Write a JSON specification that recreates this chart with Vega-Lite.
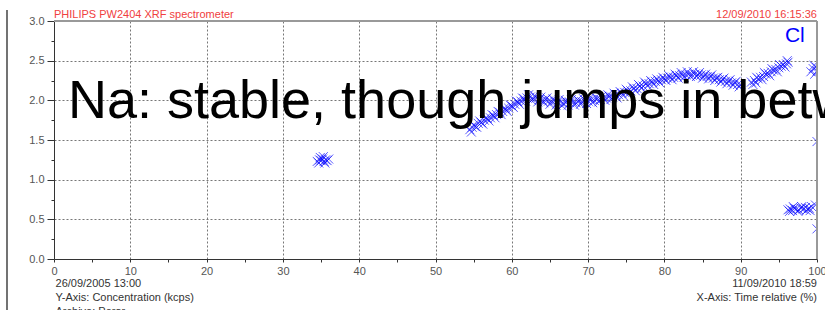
{
  "$schema": "https://vega.github.io/schema/vega-lite/v6.json",
  "width": 763,
  "height": 238,
  "autosize": {"type": "none"},
  "padding": {"left": 54, "top": 21, "right": 8, "bottom": 51},
  "background": "white",
  "config": {
    "view": {"stroke": null},
    "font": "Liberation Sans",
    "axis": {"labelFont": "Liberation Sans", "labelFontSize": 11, "labelColor": "#555555"}
  },
  "resolve": {"axis": {"x": "independent", "y": "independent"}},
  "datasets": {
    "one": [{}],
    "pts": [
      {"x": 34.5, "y": 1.23}, {"x": 34.8, "y": 1.25}, {"x": 35.0, "y": 1.24}, {"x": 35.2, "y": 1.26},
      {"x": 35.4, "y": 1.23}, {"x": 35.6, "y": 1.25}, {"x": 35.8, "y": 1.24}, {"x": 36.0, "y": 1.26},
      {"x": 34.9, "y": 1.28}, {"x": 35.5, "y": 1.21}, {"x": 35.3, "y": 1.29}, {"x": 34.7, "y": 1.21},
      {"x": 54.5, "y": 1.63}, {"x": 54.8, "y": 1.66}, {"x": 55.2, "y": 1.67}, {"x": 55.6, "y": 1.71},
      {"x": 56.0, "y": 1.72}, {"x": 56.4, "y": 1.75}, {"x": 56.8, "y": 1.77}, {"x": 57.2, "y": 1.78},
      {"x": 57.6, "y": 1.81}, {"x": 58.0, "y": 1.82}, {"x": 58.4, "y": 1.85}, {"x": 58.8, "y": 1.86},
      {"x": 59.2, "y": 1.89}, {"x": 59.6, "y": 1.90}, {"x": 60.0, "y": 1.93}, {"x": 60.4, "y": 1.95},
      {"x": 60.8, "y": 1.98}, {"x": 61.2, "y": 1.99}, {"x": 61.6, "y": 2.02}, {"x": 62.0, "y": 2.03},
      {"x": 62.4, "y": 2.04}, {"x": 62.8, "y": 2.02}, {"x": 63.2, "y": 2.03}, {"x": 63.6, "y": 2.01},
      {"x": 64.0, "y": 2.00}, {"x": 64.4, "y": 2.01}, {"x": 64.8, "y": 1.99}, {"x": 65.2, "y": 1.98},
      {"x": 65.6, "y": 1.99}, {"x": 66.0, "y": 1.97}, {"x": 66.4, "y": 1.98}, {"x": 66.8, "y": 1.96},
      {"x": 67.2, "y": 1.98}, {"x": 67.6, "y": 1.97}, {"x": 68.0, "y": 1.98}, {"x": 68.4, "y": 1.97},
      {"x": 68.8, "y": 1.99}, {"x": 69.2, "y": 1.98}, {"x": 69.6, "y": 2.00}, {"x": 70.0, "y": 1.99},
      {"x": 70.4, "y": 2.01}, {"x": 70.8, "y": 2.00}, {"x": 71.2, "y": 2.02}, {"x": 71.6, "y": 2.01},
      {"x": 72.0, "y": 2.03}, {"x": 72.4, "y": 2.03}, {"x": 72.8, "y": 2.05}, {"x": 73.2, "y": 2.04},
      {"x": 73.6, "y": 2.07}, {"x": 74.0, "y": 2.07}, {"x": 74.4, "y": 2.09}, {"x": 74.8, "y": 2.10},
      {"x": 75.2, "y": 2.12}, {"x": 75.6, "y": 2.12}, {"x": 76.0, "y": 2.15}, {"x": 76.4, "y": 2.15},
      {"x": 76.8, "y": 2.18}, {"x": 77.2, "y": 2.18}, {"x": 77.6, "y": 2.21}, {"x": 78.0, "y": 2.21},
      {"x": 78.4, "y": 2.23}, {"x": 78.8, "y": 2.24}, {"x": 79.2, "y": 2.25}, {"x": 79.6, "y": 2.26},
      {"x": 80.0, "y": 2.27}, {"x": 80.4, "y": 2.28}, {"x": 80.8, "y": 2.29}, {"x": 81.2, "y": 2.29},
      {"x": 81.6, "y": 2.31}, {"x": 82.0, "y": 2.31}, {"x": 82.4, "y": 2.32}, {"x": 82.8, "y": 2.32},
      {"x": 83.2, "y": 2.33}, {"x": 83.6, "y": 2.32}, {"x": 84.0, "y": 2.33}, {"x": 84.4, "y": 2.32},
      {"x": 84.8, "y": 2.32}, {"x": 85.2, "y": 2.31}, {"x": 85.6, "y": 2.30}, {"x": 86.0, "y": 2.30},
      {"x": 86.4, "y": 2.28}, {"x": 86.8, "y": 2.28}, {"x": 87.2, "y": 2.26}, {"x": 87.6, "y": 2.26},
      {"x": 88.0, "y": 2.24}, {"x": 88.4, "y": 2.24}, {"x": 88.8, "y": 2.22}, {"x": 89.2, "y": 2.22},
      {"x": 89.6, "y": 2.20}, {"x": 90.0, "y": 2.20},
      {"x": 54.7, "y": 1.60}, {"x": 55.0, "y": 1.69}, {"x": 55.4, "y": 1.66}, {"x": 55.8, "y": 1.74},
      {"x": 56.2, "y": 1.70}, {"x": 56.6, "y": 1.78}, {"x": 57.0, "y": 1.74}, {"x": 57.4, "y": 1.82},
      {"x": 57.8, "y": 1.78}, {"x": 58.2, "y": 1.86}, {"x": 58.6, "y": 1.82}, {"x": 59.0, "y": 1.90},
      {"x": 59.4, "y": 1.86}, {"x": 59.8, "y": 1.94}, {"x": 60.2, "y": 1.91}, {"x": 60.6, "y": 1.99},
      {"x": 61.0, "y": 1.95}, {"x": 61.4, "y": 2.03}, {"x": 61.8, "y": 1.99}, {"x": 62.2, "y": 2.07},
      {"x": 62.6, "y": 2.00}, {"x": 63.0, "y": 2.06}, {"x": 63.4, "y": 1.98}, {"x": 63.8, "y": 2.04},
      {"x": 64.2, "y": 1.97}, {"x": 64.6, "y": 2.03}, {"x": 65.0, "y": 1.95}, {"x": 65.4, "y": 2.02},
      {"x": 65.8, "y": 1.94}, {"x": 66.2, "y": 2.01}, {"x": 66.6, "y": 1.93}, {"x": 67.0, "y": 2.00},
      {"x": 67.4, "y": 1.94}, {"x": 67.8, "y": 2.01}, {"x": 68.2, "y": 1.94}, {"x": 68.6, "y": 2.01},
      {"x": 69.0, "y": 1.95}, {"x": 69.4, "y": 2.02}, {"x": 69.8, "y": 1.96}, {"x": 70.2, "y": 2.03},
      {"x": 70.6, "y": 1.97}, {"x": 71.0, "y": 2.04}, {"x": 71.4, "y": 1.98}, {"x": 71.8, "y": 2.05},
      {"x": 72.2, "y": 2.00}, {"x": 72.6, "y": 2.07}, {"x": 73.0, "y": 2.01}, {"x": 73.4, "y": 2.09},
      {"x": 73.8, "y": 2.03}, {"x": 74.2, "y": 2.11}, {"x": 74.6, "y": 2.06}, {"x": 75.0, "y": 2.14},
      {"x": 75.4, "y": 2.09}, {"x": 75.8, "y": 2.17}, {"x": 76.2, "y": 2.12}, {"x": 76.6, "y": 2.20},
      {"x": 77.0, "y": 2.15}, {"x": 77.4, "y": 2.23}, {"x": 77.8, "y": 2.18}, {"x": 78.2, "y": 2.25},
      {"x": 78.6, "y": 2.20}, {"x": 79.0, "y": 2.27}, {"x": 79.4, "y": 2.22}, {"x": 79.8, "y": 2.29},
      {"x": 80.2, "y": 2.25}, {"x": 80.6, "y": 2.31}, {"x": 81.0, "y": 2.26}, {"x": 81.4, "y": 2.33},
      {"x": 81.8, "y": 2.28}, {"x": 82.2, "y": 2.35}, {"x": 82.6, "y": 2.29}, {"x": 83.0, "y": 2.36},
      {"x": 83.4, "y": 2.30}, {"x": 83.8, "y": 2.36}, {"x": 84.2, "y": 2.30}, {"x": 84.6, "y": 2.35},
      {"x": 85.0, "y": 2.28}, {"x": 85.4, "y": 2.33}, {"x": 85.8, "y": 2.27}, {"x": 86.2, "y": 2.32},
      {"x": 86.6, "y": 2.25}, {"x": 87.0, "y": 2.29}, {"x": 87.4, "y": 2.23}, {"x": 87.8, "y": 2.28},
      {"x": 88.2, "y": 2.21}, {"x": 88.6, "y": 2.26}, {"x": 89.0, "y": 2.19}, {"x": 89.4, "y": 2.24},
      {"x": 89.8, "y": 2.17},
      {"x": 91.4, "y": 2.23}, {"x": 91.8, "y": 2.25}, {"x": 92.0, "y": 2.22}, {"x": 92.3, "y": 2.27},
      {"x": 92.6, "y": 2.29}, {"x": 93.0, "y": 2.30}, {"x": 93.3, "y": 2.33}, {"x": 93.6, "y": 2.34},
      {"x": 94.0, "y": 2.36}, {"x": 94.3, "y": 2.38}, {"x": 94.6, "y": 2.39}, {"x": 95.0, "y": 2.41},
      {"x": 95.3, "y": 2.43}, {"x": 95.6, "y": 2.45}, {"x": 96.0, "y": 2.46}, {"x": 96.2, "y": 2.48},
      {"x": 91.6, "y": 2.20}, {"x": 92.1, "y": 2.29}, {"x": 92.8, "y": 2.26}, {"x": 93.1, "y": 2.35},
      {"x": 93.8, "y": 2.31}, {"x": 94.1, "y": 2.40}, {"x": 94.8, "y": 2.36}, {"x": 95.1, "y": 2.45},
      {"x": 95.8, "y": 2.42}, {"x": 96.1, "y": 2.50},
      {"x": 99.2, "y": 2.36}, {"x": 99.5, "y": 2.40}, {"x": 99.7, "y": 2.33}, {"x": 99.9, "y": 2.42},
      {"x": 100.0, "y": 2.37}, {"x": 99.6, "y": 2.44},
      {"x": 100.0, "y": 1.48}, {"x": 100.0, "y": 0.38},
      {"x": 96.2, "y": 0.62}, {"x": 96.5, "y": 0.63}, {"x": 96.8, "y": 0.61}, {"x": 97.0, "y": 0.64},
      {"x": 97.3, "y": 0.63}, {"x": 97.6, "y": 0.62}, {"x": 97.9, "y": 0.64}, {"x": 98.2, "y": 0.63},
      {"x": 98.5, "y": 0.65}, {"x": 98.8, "y": 0.63}, {"x": 99.0, "y": 0.64}, {"x": 99.3, "y": 0.66},
      {"x": 99.8, "y": 0.68},
      {"x": 96.4, "y": 0.60}, {"x": 96.9, "y": 0.66}, {"x": 97.5, "y": 0.60}, {"x": 98.0, "y": 0.66},
      {"x": 98.6, "y": 0.61}, {"x": 99.1, "y": 0.61}
    ]
  },
  "layer": [
    {
      "data": {"name": "pts"},
      "mark": {"type": "point", "shape": "M-1,-1L1,1M-1,1L1,-1", "filled": false, "size": 81, "stroke": "#0000ff", "strokeWidth": 1, "opacity": 0.65, "clip": true},
      "encoding": {
        "x": {
          "field": "x", "type": "quantitative",
          "scale": {"domain": [0, 100], "nice": false, "zero": false},
          "axis": {
            "title": null,
            "values": [0, 5, 10, 15, 20, 25, 30, 35, 40, 45, 50, 55, 60, 65, 70, 75, 80, 85, 90, 95, 100],
            "labelExpr": "datum.value % 10 === 0 ? datum.label : ''",
            "labelFlush": false, "labelOverlap": false, "labelPadding": 3,
            "tickSize": 3, "tickColor": "#333333",
            "domainColor": "#333333",
            "grid": true, "gridDash": [2, 2], "gridColor": "#777777",
            "gridOpacity": {"condition": {"test": "datum.value % 10 !== 0 || datum.value === 0 || datum.value === 100", "value": 0}, "value": 1}
          }
        },
        "y": {
          "field": "y", "type": "quantitative",
          "scale": {"domain": [0, 3], "nice": false, "zero": false},
          "axis": {
            "title": null,
            "values": [0, 0.25, 0.5, 0.75, 1, 1.25, 1.5, 1.75, 2, 2.25, 2.5, 2.75, 3],
            "format": ".1f",
            "labelExpr": "abs(datum.value * 2 - round(datum.value * 2)) < 0.001 ? datum.label : ''",
            "labelOverlap": false, "labelFlush": false, "labelPadding": 3,
            "tickSize": {"condition": {"test": "abs(datum.value * 2 - round(datum.value * 2)) > 0.001", "value": 3}, "value": 7},
            "tickColor": "#333333",
            "domainColor": "#333333",
            "grid": true, "gridDash": [2, 2], "gridColor": "#777777",
            "gridOpacity": {"condition": {"test": "abs(datum.value * 2 - round(datum.value * 2)) > 0.001 || datum.value === 0 || datum.value === 3", "value": 0}, "value": 1}
          }
        }
      }
    },
    {
      "data": {"name": "one"},
      "mark": {"type": "rule", "stroke": "#999999", "strokeWidth": 2, "clip": false},
      "encoding": {"x": {"datum": 0, "axis": null}, "x2": {"datum": 100}, "y": {"datum": 3, "axis": null}}
    },
    {
      "data": {"name": "one"},
      "mark": {"type": "rule", "stroke": "#999999", "strokeWidth": 2, "clip": false},
      "encoding": {"x": {"datum": 100, "axis": null}, "y": {"datum": 0, "axis": null}, "y2": {"datum": 3}}
    },
    {
      "data": {"name": "one"},
      "mark": {"type": "rule", "stroke": "#444444", "strokeWidth": 1.5, "clip": false},
      "encoding": {"x": {"datum": -6.16, "axis": null}, "y": {"datum": 3.14, "axis": null}, "y2": {"datum": -0.7}}
    },
    {
      "data": {"name": "one"},
      "mark": {"type": "text", "align": "left", "baseline": "alphabetic", "fontSize": 11, "color": "#f04040", "clip": false},
      "encoding": {"x": {"datum": 0, "axis": null}, "y": {"datum": 3.039, "axis": null}, "text": {"value": "PHILIPS PW2404 XRF spectrometer"}}
    },
    {
      "data": {"name": "one"},
      "mark": {"type": "text", "align": "right", "baseline": "alphabetic", "fontSize": 11, "color": "#f04040", "clip": false},
      "encoding": {"x": {"datum": 100, "axis": null}, "y": {"datum": 3.039, "axis": null}, "text": {"value": "12/09/2010 16:15:36"}}
    },
    {
      "data": {"name": "one"},
      "mark": {"type": "text", "align": "right", "baseline": "alphabetic", "fontSize": 21, "color": "#0000ff", "clip": false},
      "encoding": {"x": {"datum": 98.4, "axis": null}, "y": {"datum": 2.736, "axis": null}, "text": {"value": "Cl"}}
    },
    {
      "data": {"name": "one"},
      "mark": {"type": "text", "align": "left", "baseline": "alphabetic", "fontSize": 11, "color": "#333333", "clip": false},
      "encoding": {"x": {"datum": 0.2, "axis": null}, "y": {"datum": -0.353, "axis": null}, "text": {"value": "26/09/2005 13:00"}}
    },
    {
      "data": {"name": "one"},
      "mark": {"type": "text", "align": "left", "baseline": "alphabetic", "fontSize": 11, "color": "#333333", "clip": false},
      "encoding": {"x": {"datum": 0.2, "axis": null}, "y": {"datum": -0.53, "axis": null}, "text": {"value": "Y-Axis: Concentration (kcps)"}}
    },
    {
      "data": {"name": "one"},
      "mark": {"type": "text", "align": "left", "baseline": "alphabetic", "fontSize": 11, "color": "#333333", "clip": false},
      "encoding": {"x": {"datum": 0.2, "axis": null}, "y": {"datum": -0.706, "axis": null}, "text": {"value": "Archive: Perar"}}
    },
    {
      "data": {"name": "one"},
      "mark": {"type": "text", "align": "right", "baseline": "alphabetic", "fontSize": 11, "color": "#333333", "clip": false},
      "encoding": {"x": {"datum": 100, "axis": null}, "y": {"datum": -0.353, "axis": null}, "text": {"value": "11/09/2010 18:59"}}
    },
    {
      "data": {"name": "one"},
      "mark": {"type": "text", "align": "right", "baseline": "alphabetic", "fontSize": 11, "color": "#333333", "clip": false},
      "encoding": {"x": {"datum": 100, "axis": null}, "y": {"datum": -0.53, "axis": null}, "text": {"value": "X-Axis: Time relative (%)"}}
    },
    {
      "data": {"name": "one"},
      "mark": {"type": "text", "align": "left", "baseline": "alphabetic", "fontSize": 54, "color": "#000000", "clip": false},
      "encoding": {"x": {"datum": 1.83, "axis": null}, "y": {"datum": 1.778, "axis": null}, "text": {"value": "Na: stable, though jumps in between"}}
    }
  ]
}
